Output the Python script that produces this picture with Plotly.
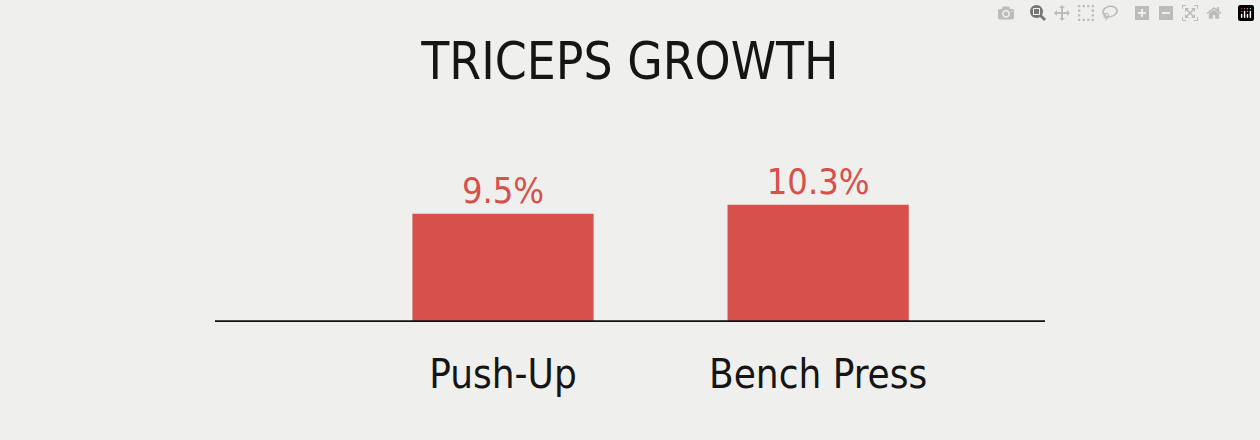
import plotly.graph_objects as go

exercises = ["Push-Up", "Bench Press"]
growth = [9.5, 10.3]
labels = ["9.5%", "10.3%"]

FONT = "Liberation Sans Narrow, DejaVu Sans Condensed, sans-serif"
RED = "rgb(214, 80, 76)"

fig = go.Figure(go.Bar(
    x=list(range(len(exercises))),
    y=growth,
    width=0.575,
    marker=dict(color=RED, line=dict(width=0)),
    text=labels,
    textposition="outside",
    textfont=dict(family=FONT, size=36, color=RED),
    cliponaxis=False,
    hoverinfo="skip",
))

fig.update_layout(
    width=1260, height=440,
    paper_bgcolor="#efefed", plot_bgcolor="#efefed",
    margin=dict(l=215, r=215, t=100, b=118),
    title=dict(text="TRICEPS GROWTH", x=0.5, xanchor="center", y=0.86, yanchor="middle",
               font=dict(family=FONT, size=51, color="#151515")),
    xaxis=dict(range=[-0.914, 1.72], tickvals=list(range(len(exercises))), ticktext=exercises,
               tickfont=dict(family=FONT, size=40, color="#151515"),
               showgrid=False, zeroline=False, showline=False, ticks="", ticklabelstandoff=25),
    yaxis=dict(range=[0, 19.5], visible=False),
    shapes=[dict(type="line", xref="paper", yref="y", x0=0, x1=1, y0=0, y1=0,
                 line=dict(color="#111111", width=3.5))],
    showlegend=False,
)

fig.write_html("out.html", post_script="document.body.style.margin='0';")
